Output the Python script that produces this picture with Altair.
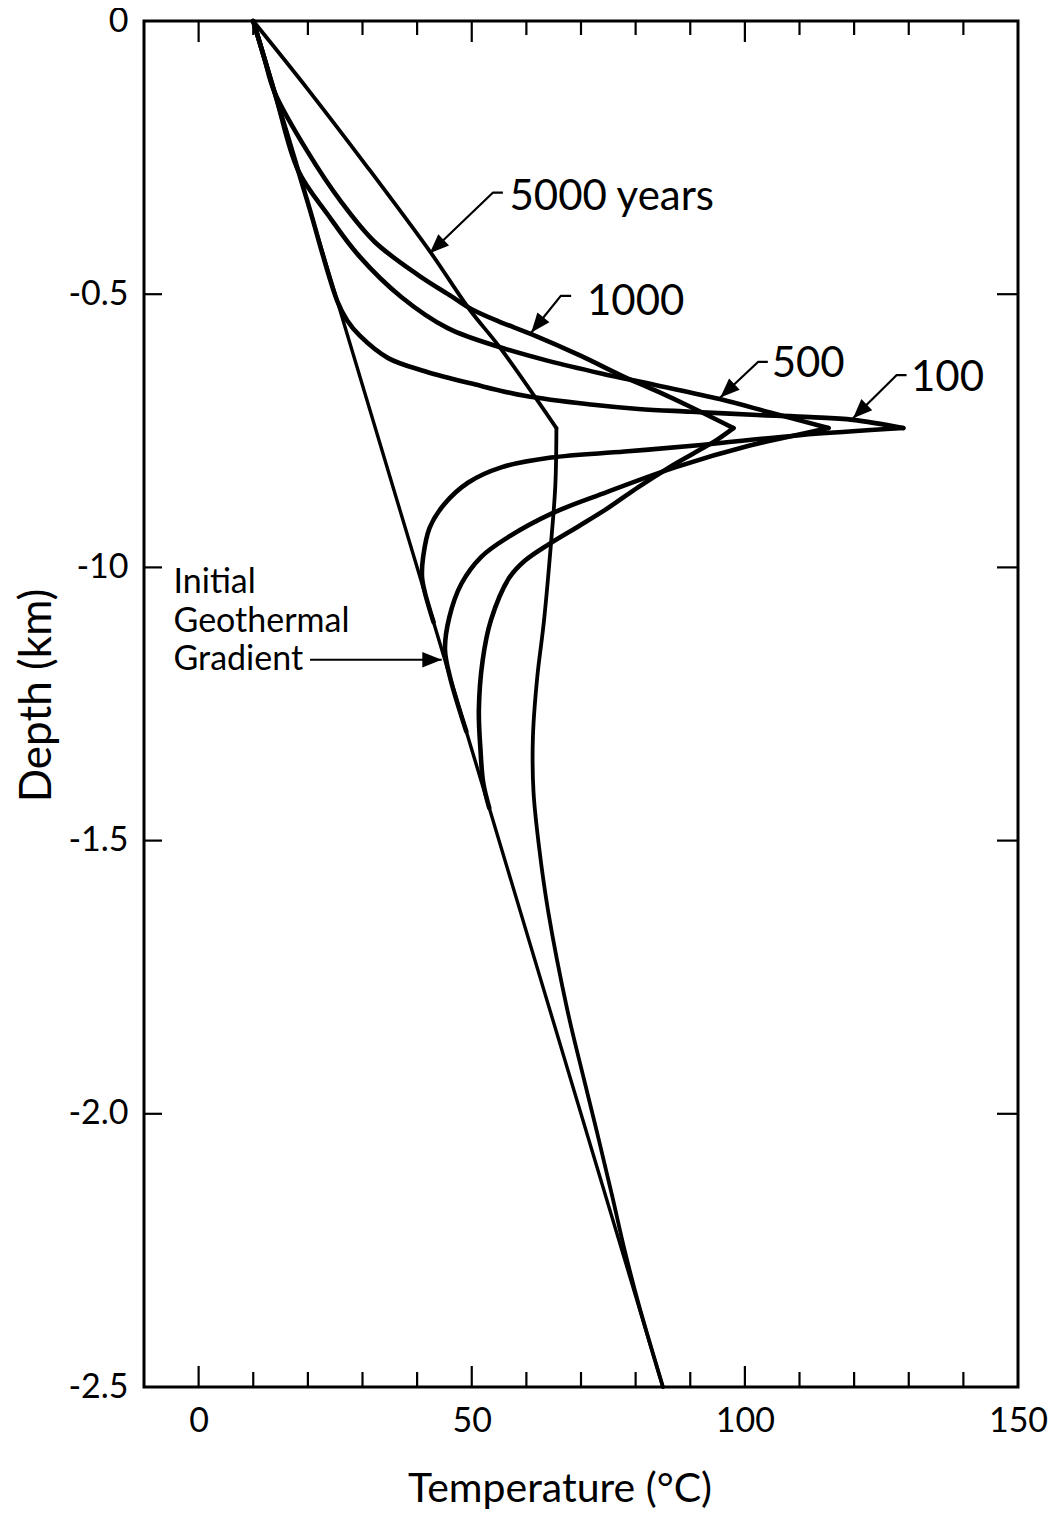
import math
import altair as alt
import pandas as pd

FONT = "Lato"
W, H = 874, 1366          # plot area in px

# ---------------- axes ----------------
x_domain = [-10, 150]
y_domain = [-2.5, 0]
x_tick_values = [0, 50, 100, 150]
x_tick_labels = ["0", "50", "100", "150"]
y_tick_values = [0, -0.5, -1.0, -1.5, -2.0, -2.5]
y_tick_labels = ["0", "-0.5", "-10", "-1.5", "-2.0", "-2.5"]
x_major_ticks = [0, 50, 100]
x_minor_ticks = [10, 20, 30, 40, 60, 70, 80, 90, 110, 120, 130, 140]
y_side_ticks = [-0.5, -1.0, -1.5, -2.0]

# ---------------- curves (temperature degC, depth km) ----------------
initial_T = [10, 85]
initial_D = [0.0, -2.5]

y100_up_T = [10, 14.1, 20.0, 25.4, 27.2, 29.5, 34.7, 41.4, 50.5, 59.7, 71.8, 80.5, 90.1, 102.3, 112.0, 119.8, 129.0]
y100_up_D = [0.0, -0.137, -0.333, -0.513, -0.548, -0.576, -0.617, -0.641, -0.665, -0.686, -0.702, -0.710, -0.715, -0.721, -0.725, -0.730, -0.745]
y100_lo_T = [129.0, 110.0, 92.0, 78.0, 64.5, 55.4, 49.3, 45.0, 42.3, 41.1, 40.9, 41.4, 43.0]
y100_lo_D = [-0.745, -0.758, -0.776, -0.788, -0.799, -0.817, -0.845, -0.884, -0.927, -0.981, -1.018, -1.045, -1.100]

y500_up_T = [10, 14.1, 18.2, 23.7, 29.2, 37.1, 45.6, 55.5, 64.0, 73.7, 84.0, 95.4, 104.8, 115.3]
y500_up_D = [0.0, -0.137, -0.273, -0.355, -0.428, -0.505, -0.562, -0.598, -0.622, -0.645, -0.667, -0.692, -0.717, -0.745]
y500_lo_T = [115.3, 108.0, 100.9, 87.5, 73.7, 64.5, 56.6, 51.7, 48.1, 45.9, 45.1, 46.0, 49.0]
y500_lo_D = [-0.745, -0.761, -0.777, -0.816, -0.866, -0.902, -0.945, -0.981, -1.030, -1.091, -1.150, -1.200, -1.300]

y1000_up_T = [10, 12.0, 13.9, 20.0, 26.1, 32.2, 40.2, 46.3, 49.9, 55.0, 60.9, 70.0, 77.6, 84.0, 90.0, 97.9]
y1000_up_D = [0.0, -0.067, -0.130, -0.240, -0.331, -0.404, -0.465, -0.504, -0.527, -0.550, -0.573, -0.613, -0.650, -0.678, -0.706, -0.745]
y1000_lo_T = [97.9, 94.8, 90.5, 86.0, 80.5, 74.7, 69.5, 64.2, 59.7, 56.8, 53.5, 52.0, 51.3, 51.6, 52.1, 53.2]
y1000_lo_D = [-0.745, -0.767, -0.792, -0.818, -0.853, -0.893, -0.925, -0.957, -0.988, -1.020, -1.097, -1.170, -1.261, -1.334, -1.394, -1.440]

y5000_up_T = [10, 20.0, 31.1, 42.5, 49.6, 55.2, 65.5]
y5000_up_D = [0.0, -0.125, -0.270, -0.424, -0.528, -0.598, -0.745]
y5000_lo_T = [65.5, 65.3, 64.5, 63.2, 62.0, 61.2, 61.3, 62.3, 64.0, 67.5, 70.5, 73.2, 75.7, 78.0, 80.6, 85.0]
y5000_lo_D = [-0.745, -0.850, -0.957, -1.100, -1.200, -1.310, -1.410, -1.510, -1.630, -1.810, -1.935, -2.045, -2.150, -2.250, -2.350, -2.500]

# ---------------- annotations ----------------
curve_label_text = ["5000 years", "1000", "500", "100"]
curve_label_T = [56.9, 71.1, 104.9, 130.4]
curve_label_D = [-0.346, -0.538, -0.651, -0.678]

gradient_label_text = ["Initial", "Geothermal", "Gradient"]
gradient_label_T = [-4.6, -4.6, -4.6]
gradient_label_D = [-1.047, -1.118, -1.188]

leader_names = ["5000", "1000", "500", "100", "initial"]
leader_T = [[55.7, 53.9, 42.3], [68.2, 66.3, 60.9], [104.2, 102.4, 95.5], [129.6, 127.8, 119.8], [20.4, 44.5]]
leader_D = [[-0.314, -0.314, -0.425], [-0.503, -0.503, -0.570], [-0.624, -0.624, -0.689], [-0.648, -0.648, -0.727], [-1.169, -1.169]]

# ---------------- styles ----------------
line_width = {"initial": 3.4, "y5000": 3.8, "y1000": 4.6, "y500": 4.6, "y100": 4.6}
major_len, minor_len_bottom, minor_len_top, side_len_left, side_len_right = 21, 15, 14, 18, 21

# ---------------- build tables ----------------
branches = [
    ("initial", "initial", initial_T, initial_D),
    ("y100_up", "y100", y100_up_T, y100_up_D),
    ("y100_lo", "y100", y100_lo_T, y100_lo_D),
    ("y500_up", "y500", y500_up_T, y500_up_D),
    ("y500_lo", "y500", y500_lo_T, y500_lo_D),
    ("y1000_up", "y1000", y1000_up_T, y1000_up_D),
    ("y1000_lo", "y1000", y1000_lo_T, y1000_lo_D),
    ("y5000_up", "y5000", y5000_up_T, y5000_up_D),
    ("y5000_lo", "y5000", y5000_lo_T, y5000_lo_D),
]
rows = []
for bid, curve, Ts, Ds in branches:
    for i, (t, d) in enumerate(zip(Ts, Ds)):
        rows.append({"branch": bid, "T": t, "D": d, "idx": i, "w": line_width[curve]})
df_lines = pd.DataFrame(rows)

lrows, arows = [], []
pxT = W / (x_domain[1] - x_domain[0])
pxD = H / (y_domain[1] - y_domain[0])
for name, Ts, Ds in zip(leader_names, leader_T, leader_D):
    for i, (t, d) in enumerate(zip(Ts, Ds)):
        lrows.append({"lead": name, "T": t, "D": d, "idx": i})
    dx = (Ts[-1] - Ts[-2]) * pxT
    dy = -(Ds[-1] - Ds[-2]) * pxD
    ang = math.degrees(math.atan2(dx, -dy)) % 360
    arows.append({"T": Ts[-1], "D": Ds[-1], "angle": ang})
df_leaders = pd.DataFrame(lrows)
df_arrows = pd.DataFrame(arows)

trows = []
for t in x_major_ticks + x_minor_ticks:
    lb = major_len if t in x_major_ticks else minor_len_bottom
    lt = major_len if t in x_major_ticks else minor_len_top
    trows.append({"T": t, "D": y_domain[0], "T2": t, "D2": y_domain[0] + lb / pxD})
    trows.append({"T": t, "D": y_domain[1], "T2": t, "D2": y_domain[1] - lt / pxD})
for d in y_side_ticks:
    trows.append({"T": x_domain[0], "D": d, "T2": x_domain[0] + side_len_left / pxT, "D2": d})
    trows.append({"T": x_domain[1], "D": d, "T2": x_domain[1] - side_len_right / pxT, "D2": d})
df_ticks = pd.DataFrame(trows)

df_curve_labels = pd.DataFrame({"T": curve_label_T, "D": curve_label_D, "text": curve_label_text})
df_grad_labels = pd.DataFrame({"T": gradient_label_T, "D": gradient_label_D, "text": gradient_label_text})


def label_expr(values, labels):
    expr = "''"
    for v, lab in reversed(list(zip(values, labels))):
        expr = f"(abs(datum.value - ({v})) < 1e-6 ? '{lab}' : {expr})"
    return expr


xs = alt.Scale(domain=x_domain, nice=False, zero=False)
ys = alt.Scale(domain=y_domain, nice=False, zero=False)

x_axis = alt.Axis(values=x_tick_values, labelExpr=label_expr(x_tick_values, x_tick_labels),
                  title="Temperature (°C)", ticks=False, domain=False, grid=False,
                  labelFontSize=34, labelPadding=17, labelFlush=False, labelOverlap=False,
                  titleFontSize=41, titleX=415.5, titleY=114.7, titleAlign="center",
                  titleBaseline="alphabetic")
y_axis = alt.Axis(values=y_tick_values, labelExpr=label_expr(y_tick_values, y_tick_labels),
                  title="Depth (km)", ticks=False, domain=False, grid=False,
                  labelFontSize=34, labelPadding=16, labelFlush=False, labelOverlap=False,
                  labelBaseline="middle",
                  titleFontSize=44, titleX=-94, titleY=674, titleAngle=270, titleAlign="center",
                  titleBaseline="alphabetic")

X = alt.X("T:Q", scale=xs, axis=x_axis)
Y = alt.Y("D:Q", scale=ys, axis=y_axis)

lines = alt.Chart(df_lines).mark_line(
    interpolate="catmull-rom", color="black", strokeCap="round", strokeJoin="round"
).encode(
    x=X, y=Y,
    detail="branch:N",
    order="idx:Q",
    strokeWidth=alt.StrokeWidth("w:Q", scale=None),
)

leaders = alt.Chart(df_leaders).mark_line(color="black", strokeWidth=2.2, strokeJoin="round").encode(
    x=X, y=Y,
    detail="lead:N",
    order="idx:Q",
)

arrows = alt.Chart(df_arrows).mark_point(
    shape="M0,0L-0.4,1L0.4,1Z", filled=True, color="black", size=1500, opacity=1, strokeWidth=0
).encode(
    x=X, y=Y,
    angle=alt.Angle("angle:Q", scale=None),
)

ticks = alt.Chart(df_ticks).mark_rule(color="black", strokeWidth=2.2).encode(
    x=X, y=Y,
    x2="T2:Q",
    y2="D2:Q",
)

curve_labels = alt.Chart(df_curve_labels).mark_text(
    align="left", baseline="alphabetic", font=FONT, fontSize=42, color="black"
).encode(
    x=X, y=Y,
    text="text:N",
)

grad_labels = alt.Chart(df_grad_labels).mark_text(
    align="left", baseline="alphabetic", font=FONT, fontSize=34, color="black"
).encode(
    x=X, y=Y,
    text="text:N",
)

chart = alt.layer(lines, leaders, arrows, ticks, curve_labels, grad_labels).properties(
    width=W, height=H,
    autosize=alt.AutoSizeParams(type="none"),
    padding={"left": 136, "top": 13, "right": 35, "bottom": 123},
    background="white",
).configure_view(
    stroke="black", strokeWidth=3
).configure_axis(
    labelColor="black", titleColor="black", labelFont=FONT, titleFont=FONT,
    titleFontWeight="normal", labelFontWeight="normal"
)

chart.save("out.html", embed_options={"renderer": "svg", "actions": False})
